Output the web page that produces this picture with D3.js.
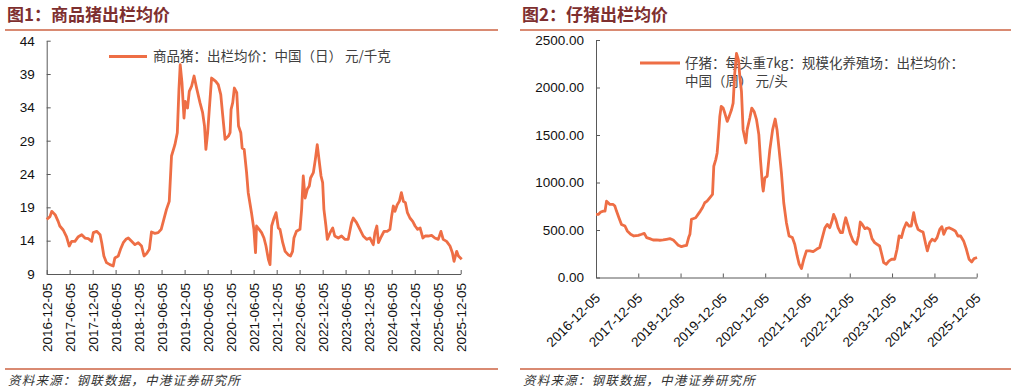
<!DOCTYPE html>
<html><head><meta charset="utf-8">
<script src="https://cdn.jsdelivr.net/npm/d3@7"></script>
<style>body{margin:0;background:#fff;} svg{display:block;}</style>
</head><body><svg id="c" width="1017" height="392"></svg>
<script>
// ---------- DATA ----------
const hogDates = [
"2016-12-05","2016-12-31","2017-01-14","2017-02-10","2017-03-06","2017-03-19","2017-04-15","2017-05-11","2017-06-02","2017-06-21",
"2017-07-17","2017-08-13","2017-09-09","2017-10-05","2017-10-31","2017-11-27","2017-12-10","2018-01-06","2018-02-02","2018-02-15",
"2018-03-04","2018-03-25","2018-04-21","2018-05-17","2018-05-30","2018-06-26","2018-07-14","2018-08-05","2018-08-26","2018-09-14",
"2018-10-10","2018-11-06","2018-12-02","2018-12-28","2019-01-17","2019-02-08","2019-02-28","2019-03-17","2019-04-13","2019-05-09",
"2019-06-02","2019-06-23","2019-07-14","2019-08-05","2019-08-23","2019-09-19","2019-10-08","2019-10-21","2019-10-31","2019-11-14",
"2019-11-30","2019-12-10","2019-12-28","2020-01-11","2020-01-30","2020-02-18","2020-03-09","2020-04-05","2020-04-26","2020-05-11",
"2020-05-22","2020-06-05","2020-06-18","2020-07-06","2020-07-19","2020-08-08","2020-08-28","2020-09-17","2020-10-02","2020-10-21",
"2020-11-17","2020-11-30","2020-12-08","2020-12-21","2021-01-03","2021-01-22","2021-02-05","2021-02-23","2021-03-06","2021-03-22",
"2021-04-10","2021-04-23","2021-05-19","2021-06-07","2021-06-20","2021-06-28","2021-07-19","2021-08-07","2021-08-26","2021-09-11",
"2021-09-30","2021-10-13","2021-10-26","2021-11-14","2021-11-30","2021-12-18","2021-12-31","2022-01-22","2022-02-10","2022-03-06",
"2022-03-25","2022-04-10","2022-04-21","2022-05-11","2022-06-08","2022-06-21","2022-07-04","2022-07-19","2022-08-05","2022-08-21",
"2022-08-31","2022-09-22","2022-10-08","2022-10-23","2022-11-06","2022-11-22","2022-12-05","2022-12-15","2022-12-31","2023-01-11",
"2023-02-02","2023-02-23","2023-03-11","2023-04-08","2023-05-04","2023-05-30","2023-06-26","2023-07-22","2023-08-05","2023-08-31",
"2023-09-27","2023-10-23","2023-11-19","2023-12-15","2024-01-11","2024-01-24","2024-02-08","2024-02-21","2024-03-17","2024-04-05",
"2024-04-30","2024-05-22","2024-06-05","2024-06-18","2024-07-01","2024-07-19","2024-08-05","2024-08-21","2024-09-06","2024-09-22",
"2024-10-08","2024-10-28","2024-11-19","2024-12-08","2024-12-28","2025-01-17","2025-02-08","2025-02-26","2025-03-22","2025-04-18",
"2025-05-14","2025-06-10","2025-07-01","2025-07-19","2025-08-15","2025-09-11","2025-09-30","2025-10-13","2025-11-03","2025-11-17",
"2025-12-13"];
const hogValues = [
17.2,17.6,18.4,17.9,16.9,16.2,15.6,14.6,13.2,13.9,
13.9,14.6,14.9,14.4,14.3,13.9,15.2,15.4,14.9,13.7,
11.7,10.7,10.4,10.2,11.4,11.7,12.7,13.7,14.2,14.4,
13.9,13.4,13.7,13.2,11.7,12.1,12.7,15.3,15.1,15.2,
15.7,17.2,18.7,19.9,26.7,28.4,30.2,36.7,40.4,37.7,
32.4,34.9,33.9,36.4,37.2,38.7,36.9,34.7,33.2,31.2,
27.7,30.2,33.7,38.4,38.2,37.9,37.4,35.9,32.9,29.2,
29.7,30.2,33.7,34.7,36.9,36.2,31.2,30.2,27.9,27.7,
24.2,21.2,18.2,15.7,12.2,16.2,15.7,15.2,14.4,13.2,
11.2,10.4,16.2,17.4,18.2,15.9,15.7,13.7,12.4,11.9,
11.7,12.4,14.4,15.4,15.7,18.7,23.7,20.4,21.7,22.2,
23.4,24.2,26.2,28.4,26.2,23.7,22.7,18.7,16.2,14.2,
15.2,15.9,14.7,14.4,14.7,14.2,14.2,16.7,17.4,16.7,
15.7,14.7,14.2,14.4,13.4,15.2,16.2,13.7,14.7,15.4,
15.4,15.7,17.7,19.2,18.4,19.4,19.9,21.2,19.9,19.7,
18.2,17.4,16.9,16.2,15.7,15.9,14.4,14.7,14.7,14.8,
14.4,14.2,15.4,14.2,13.9,13.2,12.2,10.9,12.4,11.7,
11.2];

const pigletDates = [
"2016-12-05","2016-12-25","2017-01-15","2017-02-07","2017-02-21","2017-03-06","2017-03-20","2017-04-04","2017-05-02","2017-05-17",
"2017-05-31","2017-06-21","2017-07-13","2017-08-12","2017-09-01","2017-09-30","2017-10-28","2017-12-05","2018-01-03","2018-01-26",
"2018-02-15","2018-03-14","2018-04-12","2018-05-11","2018-06-09","2018-07-08","2018-08-06","2018-09-04","2018-10-03","2018-10-25",
"2018-11-15","2018-12-13","2019-01-03","2019-01-26","2019-02-13","2019-02-24","2019-03-09","2019-03-23","2019-04-15","2019-05-05",
"2019-05-25","2019-06-12","2019-07-02","2019-07-22","2019-08-14","2019-09-07","2019-09-18","2019-10-05","2019-10-17","2019-10-28",
"2019-11-09","2019-11-21","2019-12-08","2019-12-22","2020-01-12","2020-01-29","2020-02-18","2020-03-03","2020-03-17","2020-04-01",
"2020-04-18","2020-04-30","2020-05-14","2020-05-28","2020-06-21","2020-07-02","2020-07-25","2020-08-11","2020-08-31","2020-09-21",
"2020-10-11","2020-10-25","2020-11-12","2020-11-18","2020-12-02","2020-12-22","2021-01-14","2021-02-07","2021-03-01","2021-03-17",
"2021-04-04","2021-04-24","2021-05-14","2021-06-06","2021-06-29","2021-07-27","2021-08-17","2021-09-07","2021-09-24","2021-10-14",
"2021-11-03","2021-11-26","2021-12-25","2022-01-23","2022-02-21","2022-03-20","2022-04-12","2022-05-05","2022-05-25","2022-06-15",
"2022-07-05","2022-07-19","2022-08-06","2022-08-26","2022-09-16","2022-10-03","2022-10-17","2022-10-31","2022-11-21","2022-12-11",
"2023-01-03","2023-02-01","2023-02-18","2023-03-06","2023-03-23","2023-04-15","2023-05-03","2023-05-25","2023-06-15","2023-07-08",
"2023-07-28","2023-08-20","2023-09-07","2023-09-24","2023-10-17","2023-11-09","2023-12-02","2023-12-28","2024-01-17","2024-02-04",
"2024-02-24","2024-03-14","2024-04-07","2024-04-30","2024-05-19","2024-06-09","2024-06-26","2024-07-16","2024-08-06","2024-08-29",
"2024-09-21","2024-10-05","2024-10-25","2024-11-15","2024-12-08","2024-12-28","2025-01-20","2025-02-07","2025-02-24","2025-03-17",
"2025-04-10","2025-05-08","2025-06-03","2025-06-26","2025-07-19","2025-08-14","2025-09-07","2025-09-30","2025-10-23","2025-11-12",
"2025-12-08"];
const pigletValues = [
664,664,689,699,699,804,787,769,769,752,
699,629,559,542,490,455,437,444,455,465,
420,409,395,395,392,395,402,409,395,367,
339,325,332,339,420,455,612,619,629,664,
699,734,787,804,839,874,1171,1241,1311,1486,
1696,1801,1783,1731,1643,1696,1766,1836,2150,2360,
2290,2115,1958,1556,1416,1556,1678,1783,1748,1661,
1504,1241,962,909,1049,1066,1346,1556,1668,1556,
1346,1101,787,577,437,420,350,227,140,94,
192,280,280,273,297,315,420,524,559,524,
594,664,612,524,472,472,559,629,542,455,
385,350,437,584,559,514,524,507,409,367,
350,332,245,157,140,175,192,192,297,437,
420,507,577,542,542,682,577,507,490,479,
350,280,367,402,385,420,507,535,455,514,
524,507,490,437,437,385,297,192,164,199,
210];

const hogTickLabels = ["2016-12-05","2017-06-05","2017-12-05","2018-06-05","2018-12-05","2019-06-05","2019-12-05","2020-06-05","2020-12-05","2021-06-05","2021-12-05","2022-06-05","2022-12-05","2023-06-05","2023-12-05","2024-06-05","2024-12-05","2025-06-05","2025-12-05"];
const pigletTickLabels = ["2016-12-05","2017-12-05","2018-12-05","2019-12-05","2020-12-05","2021-12-05","2022-12-05","2023-12-05","2024-12-05","2025-12-05"];
const hogYTicks = [9,14,19,24,29,34,39,44];
const pigletYTicks = [0,500,1000,1500,2000,2500];

const title1 = "图1：商品猪出栏均价";
const title2 = "图2：仔猪出栏均价";
const legend1 = "商品猪：出栏均价：中国（日） 元/千克";
const legend2a = "仔猪：每头重7kg：规模化养殖场：出栏均价：";
const legend2b = "中国（周） 元/头";
const sourceText = "资料来源：钢联数据，中港证券研究所";

// ---------- DRAW ----------
const parse = d3.timeParse("%Y-%m-%d");
const fmt = d3.timeFormat("%Y-%m-%d");
const svg = d3.select("#c");
const LINE = "#EE6E45";
const AXIS = "#595959";
const CJK = "'Noto Sans CJK SC','Noto Sans',sans-serif";
const NUM = "'Liberation Sans',Arial,sans-serif";

function frame(x0, x1, title){
  svg.append("text").attr("x", x0 + 2).attr("y", 21).text(title)
    .attr("font-family", CJK).attr("font-weight", "bold").attr("font-size", 17).attr("fill", "#7E2F2F");
  svg.append("line").attr("x1", x0).attr("x2", x1).attr("y1", 30).attr("y2", 30)
    .attr("stroke", "#D98A72").attr("stroke-width", 2);
  svg.append("line").attr("x1", x0).attr("x2", x1).attr("y1", 369).attr("y2", 369)
    .attr("stroke", "#D98A72").attr("stroke-width", 2);
  svg.append("text").attr("x", x0 + 3).attr("y", 385).text(sourceText)
    .attr("font-family", CJK).attr("font-style", "italic").attr("font-size", 12.5)
    .attr("letter-spacing", 1.2).attr("fill", "#333");
}
frame(5, 498, title1);
frame(520, 1011, title2);

function styleAxis(g){
  g.select(".domain").attr("stroke", AXIS).attr("stroke-width", 1);
  g.selectAll(".tick line").attr("stroke", AXIS);
  g.selectAll(".tick text").attr("fill", "#111").attr("font-family", NUM).attr("font-size", 13.5);
}

// Chart 1
{
  const x = d3.scaleTime().domain([parse("2016-12-05"), parse("2025-12-05")]).range([46.7, 460.7]);
  const y = d3.scaleLinear().domain([9, 44]).range([274, 40.7]);
  const gy = svg.append("g").attr("transform", "translate(46.7,0)")
    .call(d3.axisLeft(y).tickValues(hogYTicks).tickSizeInner(-4).tickSizeOuter(0).tickPadding(12));
  styleAxis(gy);
  const gx = svg.append("g").attr("transform", "translate(0,274)")
    .call(d3.axisBottom(x).tickValues(hogTickLabels.map(parse)).tickFormat(fmt).tickSizeInner(-4).tickSizeOuter(0));
  styleAxis(gx);
  gx.selectAll(".tick text").attr("transform", "rotate(-90)").attr("x", -9).attr("y", 0)
    .attr("dy", "0.36em").attr("text-anchor", "end");
  // legend
  svg.append("line").attr("x1", 109).attr("x2", 147).attr("y1", 56.5).attr("y2", 56.5)
    .attr("stroke", LINE).attr("stroke-width", 3);
  svg.append("text").attr("x", 153).attr("y", 56.5).attr("dy", "0.36em").text(legend1)
    .attr("font-family", CJK).attr("font-size", 13.5).attr("fill", "#404040");
  const data = hogDates.map((d, i) => ({d: parse(d), v: hogValues[i]}));
  svg.append("path").datum(data)
    .attr("d", d3.line().x(p => x(p.d)).y(p => y(p.v)))
    .attr("fill", "none").attr("stroke", LINE).attr("stroke-width", 2.8).attr("stroke-linejoin", "round");
}

// Chart 2
{
  const x = d3.scaleTime().domain([parse("2016-12-05"), parse("2025-12-05")]).range([596, 976.7]);
  const y = d3.scaleLinear().domain([0, 2500]).range([277.5, 40]);
  const gy = svg.append("g").attr("transform", "translate(596,0)")
    .call(d3.axisLeft(y).tickValues(pigletYTicks).tickFormat(d3.format(".2f")).tickSizeInner(-4).tickSizeOuter(0).tickPadding(12));
  styleAxis(gy);
  const gx = svg.append("g").attr("transform", "translate(0,277.5)")
    .call(d3.axisBottom(x).tickValues(pigletTickLabels.map(parse)).tickFormat(fmt).tickSizeInner(-4).tickSizeOuter(0));
  styleAxis(gx);
  gx.selectAll(".tick text").attr("transform", "translate(1,18) rotate(-45)").attr("x", 0).attr("y", 0)
    .attr("dy", "0.36em").attr("text-anchor", "end");
  // legend
  svg.append("line").attr("x1", 640).attr("x2", 680).attr("y1", 63).attr("y2", 63)
    .attr("stroke", LINE).attr("stroke-width", 3);
  svg.append("text").attr("x", 685).attr("y", 63).attr("dy", "0.36em").text(legend2a)
    .attr("font-family", CJK).attr("font-size", 13.5).attr("fill", "#404040");
  svg.append("text").attr("x", 685).attr("y", 81.5).attr("dy", "0.36em").text(legend2b)
    .attr("font-family", CJK).attr("font-size", 13.5).attr("fill", "#404040");
  const data = pigletDates.map((d, i) => ({d: parse(d), v: pigletValues[i]}));
  svg.append("path").datum(data)
    .attr("d", d3.line().x(p => x(p.d)).y(p => y(p.v)))
    .attr("fill", "none").attr("stroke", LINE).attr("stroke-width", 2.8).attr("stroke-linejoin", "round");
}
</script>
</body></html>
